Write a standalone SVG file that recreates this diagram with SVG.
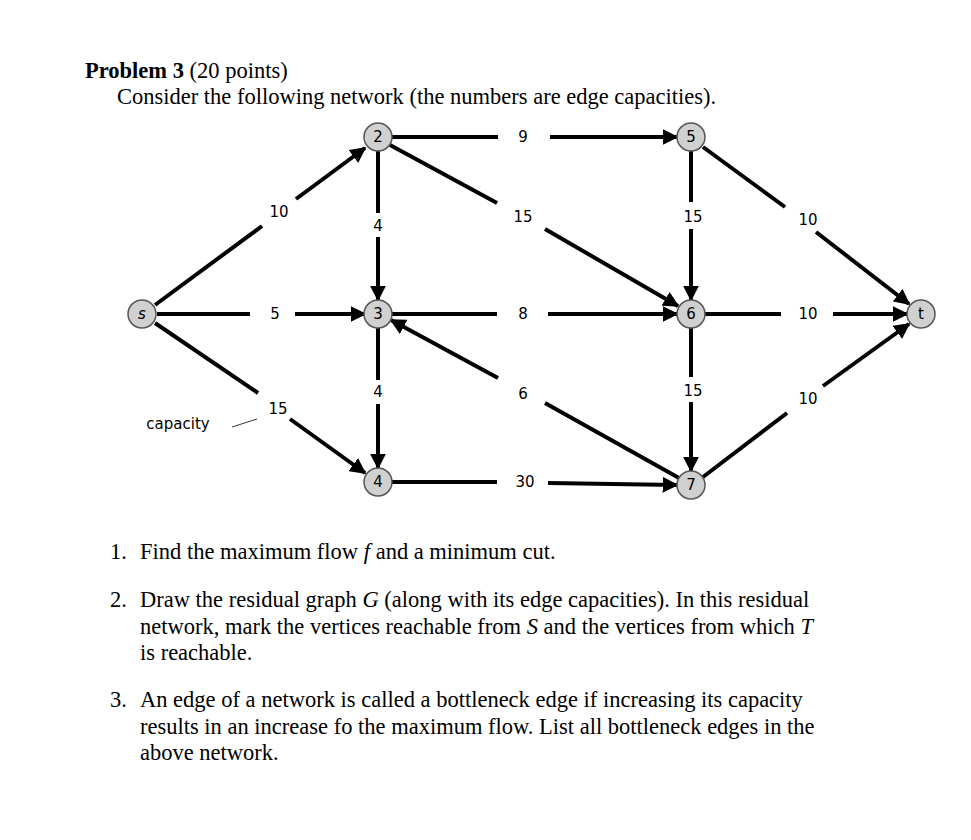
<svg xmlns="http://www.w3.org/2000/svg" width="971" height="840" viewBox="0 0 971 840">
<defs>
<marker id="ah" viewBox="0 0 10 10" refX="9" refY="5" markerWidth="4" markerHeight="4" orient="auto"><path d="M0,0 L10,5 L0,10 z" fill="#000"/></marker>
<style>
.e{stroke:#000;stroke-width:4;fill:none}
.a{marker-end:url(#ah)}
.n{fill:#d0d0d0;stroke:#555;stroke-width:1.5}
.nt{font-family:"DejaVu Sans",sans-serif;font-size:15px;text-anchor:middle;dominant-baseline:central}
.l{font-family:"DejaVu Sans",sans-serif;font-size:15px;text-anchor:middle;dominant-baseline:central}
.t{font-family:"Liberation Serif",serif;font-size:22.5px}
</style>
</defs>
<rect width="971" height="840" fill="#fff"/>
<text class="t" x="85" y="78"><tspan font-weight="bold">Problem 3</tspan> (20 points)</text>
<text class="t" x="117" y="104">Consider the following network (the numbers are edge capacities).</text>
<g id="edges">
<path class="e" d="M155,305 L262,226"/><path class="e a" d="M296,199 L365,148"/>
<path class="e" d="M157,314 L250,314"/><path class="e a" d="M295,314 L365,314"/>
<path class="e" d="M155,323 L258,393"/><path class="e a" d="M290,419 L365,473"/>
<path class="e" d="M378,151 L378,213"/><path class="e a" d="M378,237 L378,300"/>
<path class="e" d="M378,328 L378,380"/><path class="e a" d="M378,404 L378,468"/>
<path class="e" d="M392,137 L498,137"/><path class="e a" d="M550,137 L677,137"/>
<path class="e" d="M390,145 L497,203"/><path class="e a" d="M545,229 L678,306"/>
<path class="e" d="M392,314 L497,314"/><path class="e a" d="M548,314 L677,314"/>
<path class="e" d="M679,478 L545,403"/><path class="e a" d="M498,378 L391,320"/>
<path class="e" d="M392,482 L497,482"/><path class="e a" d="M548,483 L677,485"/>
<path class="e" d="M691,151 L691,202"/><path class="e a" d="M691,229 L691,300"/>
<path class="e" d="M691,328 L691,377"/><path class="e a" d="M691,402 L691,471"/>
<path class="e" d="M703,147 L785,207"/><path class="e a" d="M816,232 L909,304"/>
<path class="e" d="M705,314 L781,314"/><path class="e a" d="M833,314 L907,314"/>
<path class="e" d="M703,477 L787,413"/><path class="e a" d="M823,386 L909,324"/>
<path d="M232,427 L257,419" stroke="#333" stroke-width="1"/>
</g>
<g id="labels">
<text class="l" x="279" y="212">10</text><text class="l" x="275" y="314">5</text><text class="l" x="278" y="409">15</text>
<text class="l" x="378" y="226">4</text><text class="l" x="378" y="392">4</text>
<text class="l" x="523" y="137">9</text><text class="l" x="523" y="217">15</text><text class="l" x="523" y="314">8</text>
<text class="l" x="523" y="394">6</text><text class="l" x="525" y="482">30</text>
<text class="l" x="693" y="217">15</text><text class="l" x="693" y="391">15</text>
<text class="l" x="808" y="220">10</text><text class="l" x="808" y="314">10</text><text class="l" x="808" y="399">10</text>
<text class="l" x="178" y="424" font-size="20">capacity</text>
</g>
<g id="s"><circle class="n" cx="142" cy="314" r="14"/><text class="nt" x="142" y="314" font-style="italic">s</text></g>
<g id="n2"><circle class="n" cx="378" cy="137" r="14"/><text class="nt" x="378" y="137">2</text></g>
<g id="n3"><circle class="n" cx="378" cy="314" r="14"/><text class="nt" x="378" y="314">3</text></g>
<g id="n4"><circle class="n" cx="378" cy="482" r="14"/><text class="nt" x="378" y="482">4</text></g>
<g id="n5"><circle class="n" cx="691" cy="137" r="14"/><text class="nt" x="691" y="137">5</text></g>
<g id="n6"><circle class="n" cx="691" cy="314" r="14"/><text class="nt" x="691" y="314">6</text></g>
<g id="n7"><circle class="n" cx="691" cy="485" r="14"/><text class="nt" x="691" y="485">7</text></g>
<g id="t"><circle class="n" cx="921" cy="314" r="14"/><text class="nt" x="921" y="314">t</text></g>
<text class="t" x="110" y="559">1.</text>
<text class="t" x="140" y="559">Find the maximum flow <tspan font-style="italic">f</tspan> and a minimum cut.</text>
<text class="t" x="110" y="607">2.</text>
<text class="t" x="140" y="607">Draw the residual graph <tspan font-style="italic">G</tspan> (along with its edge capacities). In this residual</text>
<text class="t" x="140" y="634">network, mark the vertices reachable from <tspan font-style="italic">S</tspan> and the vertices from which <tspan font-style="italic">T</tspan></text>
<text class="t" x="140" y="660">is reachable.</text>
<text class="t" x="110" y="707">3.</text>
<text class="t" x="140" y="707">An edge of a network is called a bottleneck edge if increasing its capacity</text>
<text class="t" x="140" y="734">results in an increase fo the maximum flow. List all bottleneck edges in the</text>
<text class="t" x="140" y="760">above network.</text>
</svg>
